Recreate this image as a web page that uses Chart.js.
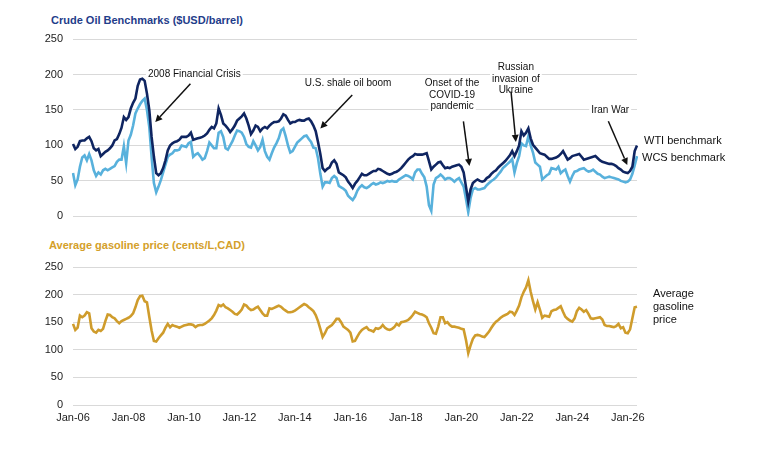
<!DOCTYPE html>
<html>
<head>
<meta charset="utf-8">
<script src="https://cdn.jsdelivr.net/npm/chart.js@4.4.1/dist/chart.umd.min.js"></script>
<style>
  body { margin: 0; background: #fff; }
  #wrap { position: relative; width: 763px; height: 456px; font-family: "Liberation Sans", Arial, sans-serif; }
  canvas { position: absolute; left: 0; }
  #oilChart { top: 0; }
  #gasChart { top: 230px; }
  .title { position: absolute; font-weight: bold; font-size: 11px; line-height: 13px; white-space: nowrap; }
</style>
</head>
<body>
<div id="wrap">
  <div class="title" style="left:51px;top:14px;color:#1f3d8a">Crude Oil Benchmarks ($USD/barrel)</div>
  <div class="title" style="left:49px;top:239px;color:#d4a02a">Average gasoline price (cents/L,CAD)</div>
  <canvas id="oilChart" width="763" height="233"></canvas>
  <canvas id="gasChart" width="763" height="226"></canvas>
</div>
<script>
const FONT = "'Liberation Sans', Arial, sans-serif";

// monthly, Jan-06 .. May-26
const monthNames = ["Jan","Feb","Mar","Apr","May","Jun","Jul","Aug","Sep","Oct","Nov","Dec"];
const tickLabels = ["Jan-06","Jan-08","Jan-10","Jan-12","Jan-14","Jan-16","Jan-18","Jan-20","Jan-22","Jan-24","Jan-26"];

const wti = [
  102, 95, 98, 106, 107, 107, 110, 112, 106, 96, 93, 95,
  85, 88, 91, 93, 96, 100, 107, 109, 116, 125, 140, 136,
  140, 152, 160, 166, 184, 193, 194, 191, 173, 150, 112, 84,
  61, 58, 61, 68, 79, 93, 100, 103, 105, 106, 108, 112,
  112, 112, 114, 118, 108, 109, 110, 111, 112, 114, 117, 122,
  126, 124, 131, 152, 143, 131, 128, 124, 119, 123, 128, 135,
  138, 141, 145, 138, 128, 116, 121, 128, 126, 120, 124, 126,
  124, 128, 131, 133, 133, 134, 138, 144, 142, 136, 131, 133,
  133, 135, 136, 135, 135, 137, 138, 134, 128, 120, 105, 88,
  68, 64, 67, 69, 76, 79, 74, 62, 60, 58, 55, 49,
  45, 40, 46, 50, 55, 60, 58, 58, 60, 62, 64, 64,
  67, 66, 64, 62, 60, 59, 60, 62, 63, 65, 68, 72,
  76, 80, 83, 85, 88, 87, 87, 87, 88, 89, 78, 66,
  70, 73, 76, 77, 72, 68, 69, 68, 70, 71, 72, 73,
  70, 62, 42, 21, 38, 47, 50, 52, 50, 49, 50, 54,
  56, 60, 63, 65, 69, 72, 75, 78, 82, 86, 92, 85,
  92, 100, 120, 114, 118, 124, 110, 101, 97, 93, 89, 88,
  87, 84, 81, 81, 82, 83, 85, 88, 92, 86, 80, 82,
  85, 86, 87, 88, 84, 80, 81, 82, 83, 84, 85, 82,
  79, 77, 76, 75, 74, 74, 73, 71, 68, 66, 63, 62,
  61, 64, 70, 92, 100
];

const wcs = [
  61, 44, 52, 70, 83, 86, 79, 88, 79, 65, 57, 62,
  59, 65, 67, 65, 67, 69, 71, 77, 80, 80, 99, 75,
  107, 115, 128, 145, 152, 158, 163, 166, 150, 126, 84, 47,
  34, 42, 51, 62, 73, 84, 87, 89, 93, 93, 94, 100,
  99, 98, 103, 105, 84, 87, 89, 85, 80, 82, 92, 104,
  100, 96, 96, 118, 120, 112, 96, 94, 100, 106, 114, 121,
  120, 118, 112, 102, 98, 97, 106, 100, 93, 98, 108, 92,
  84, 80, 89, 97, 103, 110, 121, 124, 113, 100, 90, 92,
  98, 104, 107, 110, 113, 114, 109, 105, 97, 96, 82, 60,
  42, 48, 48, 47, 54, 57, 54, 43, 41, 39, 36, 29,
  26, 23, 28, 36, 41, 44, 41, 40, 42, 45, 47, 45,
  46, 48, 47, 48, 50, 49, 50, 49, 49, 52, 54, 56,
  58, 57, 55, 52, 62, 66, 66, 60, 55, 42, 16, 8,
  45, 54, 56, 59, 56, 52, 54, 54, 52, 49, 52, 54,
  48, 42, 25, 6, 26, 38, 40, 38, 38, 39, 40, 44,
  47, 50, 52, 55, 59, 63, 68, 71, 74, 77, 81, 62,
  75, 85, 103, 100, 99, 113, 100, 90, 76, 73, 70, 52,
  55, 58, 60, 68, 67, 66, 70, 61, 64, 66, 57, 49,
  57, 63, 64, 66, 67, 68, 65, 63, 64, 66, 63, 60,
  59, 56, 54, 55, 56, 55, 54, 53, 52, 50, 49, 48,
  49, 52, 60, 72, 85
];

const gasoline = [
  147, 136, 140, 162, 159, 162, 168, 166, 139, 133, 131, 136,
  134, 138, 152, 164, 163, 159, 157, 152, 148, 152, 154, 156,
  158, 161, 166, 177, 190, 197, 198, 188, 186, 160, 135, 116,
  115, 121, 126, 131, 140, 147, 141, 145, 143, 142, 140, 142,
  144, 145, 146, 146, 145, 141, 144, 145, 145, 147, 150, 153,
  157, 163, 171, 181, 179, 182, 177, 175, 172, 169, 165, 164,
  168, 173, 182, 180, 175, 172, 173, 176, 178, 172, 166, 162,
  162, 175, 174, 176, 178, 180, 178, 174, 171, 168, 168, 169,
  171, 174, 177, 180, 183, 181, 177, 174, 170, 163, 152, 138,
  123, 130, 139, 142, 145, 150, 156, 156, 150, 142, 139, 136,
  131, 115, 116, 124, 131, 136, 139, 141, 136, 135, 133, 139,
  138, 140, 145, 140, 137, 136, 138, 141, 147, 144, 150, 151,
  152, 154, 158, 163, 169, 167, 165, 164, 162, 159, 148, 140,
  130, 129, 142, 159, 159, 148, 150, 145, 142, 142, 141, 140,
  138, 137, 118, 94, 108, 120, 126, 127, 126, 124, 123, 128,
  133, 140, 146, 151, 154, 158, 161, 163, 165, 169, 168, 163,
  171, 180, 195, 205, 213, 226, 205, 188, 173, 186, 173, 158,
  162, 161, 160, 170, 172, 173, 176, 179, 169, 160, 156, 153,
  151, 157, 170, 176, 173, 169, 172, 165, 157, 156, 157, 158,
  159, 155, 145, 143, 143, 142, 141, 143, 147, 139, 141, 131,
  130, 137, 157, 177, 178
];

let months = [];
for (let i = 0; i < wti.length; i++) {
  const yy = String(6 + Math.floor(i / 12)).padStart(2, "0");
  months.push(monthNames[i % 12] + "-" + yy);
}

// callouts: text anchor and arrow ends in (month index, value)
const oilCallouts = [
  { lines: ["2008 Financial Crisis"], at: [52.5, 200], from: [50.8, 187], to: [35.6, 133] },
  { lines: ["U.S. shale oil boom"], at: [119, 187.6], from: [120.8, 171], to: [107, 124] },
  { lines: ["Onset of the", "COVID-19", "pandemic"], at: [164, 187.6], from: [168.9, 134], to: [171.5, 71] },
  { lines: ["Russian", "invasion of", "Ukraine"], at: [191.6, 210], from: [189.5, 176], to: [191.6, 105] },
  { lines: ["Iran War"], at: [232.4, 150], from: [231.6, 134], to: [239.8, 72.5] },
];
const oilSideLabels = [
  { lines: ["WTI benchmark"], value: 106, dx: 7 },
  { lines: ["WCS benchmark"], value: 82, dx: 5 },
];
const gasSideLabels = [
  { lines: ["Average", "gasoline", "price"], value: 201.8, dx: 16 },
];

const notes = {
  id: "notes",
  afterDatasetsDraw(chart, args, opts) {
    const { ctx, chartArea, scales } = chart;
    const px = (m) => scales.x.getPixelForValue(m);
    const py = (v) => scales.y.getPixelForValue(v);
    ctx.save();
    ctx.textBaseline = "middle";

    // callout texts on white boxes
    ctx.font = "10px " + FONT;
    ctx.textAlign = "center";
    (opts.callouts || []).forEach((c) => {
      const x = px(c.at[0]);
      let y = py(c.at[1]);
      c.lines.forEach((line) => {
        const w = ctx.measureText(line).width;
        ctx.fillStyle = "#fff";
        ctx.fillRect(x - w / 2 - 2, y - 6, w + 4, 12);
        ctx.fillStyle = "#111";
        ctx.fillText(line, x, y);
        y += 11.5;
      });
    });

    // arrows
    ctx.strokeStyle = "#111";
    ctx.fillStyle = "#111";
    ctx.lineWidth = 1.5;
    (opts.callouts || []).forEach((c) => {
      const x1 = px(c.from[0]), y1 = py(c.from[1]);
      const x2 = px(c.to[0]), y2 = py(c.to[1]);
      const a = Math.atan2(y2 - y1, x2 - x1);
      const hl = 7, hw = 3.5;
      const bx = x2 - hl * Math.cos(a), by = y2 - hl * Math.sin(a);
      ctx.beginPath();
      ctx.moveTo(x1, y1);
      ctx.lineTo(bx, by);
      ctx.stroke();
      ctx.beginPath();
      ctx.moveTo(x2, y2);
      ctx.lineTo(bx + hw * Math.sin(a), by - hw * Math.cos(a));
      ctx.lineTo(bx - hw * Math.sin(a), by + hw * Math.cos(a));
      ctx.closePath();
      ctx.fill();
    });

    // series labels at the right
    ctx.font = "11px " + FONT;
    ctx.textAlign = "left";
    ctx.fillStyle = "#111";
    (opts.sideLabels || []).forEach((s) => {
      let y = py(s.value);
      s.lines.forEach((line) => {
        ctx.fillText(line, chartArea.right + s.dx, y);
        y += 13.3;
      });
    });
    ctx.restore();
  },
};

function yAxis() {
  return {
    min: 0,
    max: 250,
    ticks: { stepSize: 50, padding: 10, color: "#222", font: { family: FONT, size: 11 } },
    grid: { color: "#d9d9d9", lineWidth: 1, drawTicks: false },
    border: { display: false },
    afterFit: (s) => { s.width = 73; },
  };
}

new Chart(document.getElementById("oilChart"), {
  type: "line",
  data: {
    labels: months,
    datasets: [
      { label: "WTI benchmark", data: wti, borderColor: "#0f2561", borderWidth: 2.6, pointRadius: 0, tension: 0 },
      { label: "WCS benchmark", data: wcs, borderColor: "#58b1dc", borderWidth: 2.6, pointRadius: 0, tension: 0 },
    ],
  },
  options: {
    responsive: false,
    animation: false,
    layout: { padding: { top: 39, right: 126, bottom: 9, left: 0 } },
    scales: {
      x: { display: false },
      y: yAxis(),
    },
    plugins: {
      legend: { display: false },
      tooltip: { enabled: false },
      notes: { callouts: oilCallouts, sideLabels: oilSideLabels },
    },
  },
  plugins: [notes],
});

new Chart(document.getElementById("gasChart"), {
  type: "line",
  data: {
    labels: months,
    datasets: [
      { label: "Average gasoline price", data: gasoline, borderColor: "#cf9c2c", borderWidth: 2.6, pointRadius: 0, tension: 0 },
    ],
  },
  options: {
    responsive: false,
    animation: false,
    layout: { padding: { top: 37, right: 126, bottom: 21, left: 0 } },
    scales: {
      x: {
        ticks: {
          autoSkip: false,
          maxRotation: 0,
          padding: 6,
          color: "#222",
          font: { family: FONT, size: 11 },
          callback: function (v) {
            const l = this.getLabelForValue(v);
            return tickLabels.includes(l) ? l : "";
          },
        },
        grid: { display: false, drawTicks: false },
        border: { display: false },
        afterFit: (s) => { s.height = 30; },
      },
      y: yAxis(),
    },
    plugins: {
      legend: { display: false },
      tooltip: { enabled: false },
      notes: { sideLabels: gasSideLabels },
    },
  },
  plugins: [notes],
});
</script>
</body>
</html>
